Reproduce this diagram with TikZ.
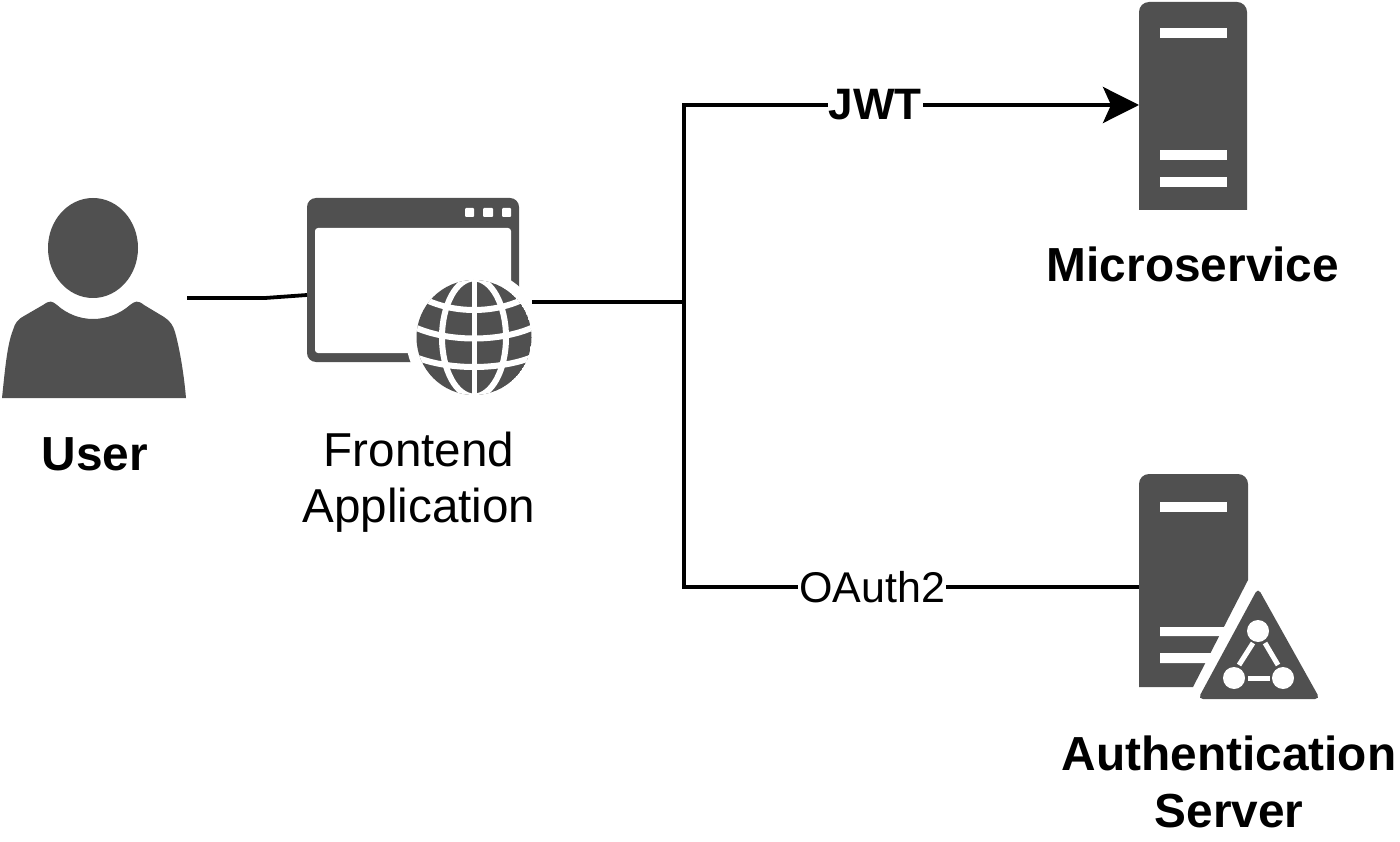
\documentclass[tikz,border=0pt]{standalone}
\usepackage{fontspec}
\setmainfont{Liberation Sans}
\usetikzlibrary{arrows.meta}
\definecolor{icon}{HTML}{505050}
\tikzset{
  x=1pt,y=-1pt,
  iconbox/.style={inner sep=0pt,outer sep=0pt,draw=none,fill=none},
  wire/.style={line width=3.8pt,black},
  wirearrow/.style={wire,-{Stealth[length=36pt,width=36pt,inset=8pt]}},
  caption/.style={align=center,inner sep=0pt,font=\fontsize{47.6}{56.5}\selectfont},
  boldcaption/.style={caption,font=\fontsize{47.8}{56.5}\selectfont\bfseries},
  wirelabel/.style={fill=white,inner sep=0pt,inner xsep=1pt,minimum height=30pt,font=\fontsize{43}{50}\selectfont},
  iconfill/.style={fill=icon,draw=none},
  cut/.style={fill=white,draw=none},
  cutline/.style={draw=white,line width=5pt},
  globeline/.style={draw=white,line width=6pt}
}
\begin{document}
\begin{tikzpicture}
\useasboundingbox (0,0) rectangle (1400,842);
\fill[white] (0,0) rectangle (1400,842);

% user icon
\fill[iconfill] (93,248) ellipse [x radius=45,y radius=50];
\fill[iconfill] (2,398) .. controls (5,370) and (7,345) .. (13,330)
  .. controls (15,323) and (18,319) .. (24,316) -- (43,305)
  .. controls (50,300) and (52,301) .. (57,305)
  .. controls (67,314) and (80,319) .. (93,319)
  .. controls (106,319) and (120,314) .. (130,305)
  .. controls (135,301) and (138,300) .. (144,305) -- (164,317)
  .. controls (170,321) and (173,325) .. (175,332)
  .. controls (180,350) and (184,375) .. (186,398) -- cycle;

% browser window
\fill[iconfill,rounded corners=9pt] (307,198) rectangle (519,362);
\fill[cut,rounded corners=3pt] (315,228) -- (511,228) -- (511,353) -- (315,353) -- cycle;
\fill[cut,rounded corners=1pt] (465,208) rectangle (474,217);
\fill[cut,rounded corners=1pt] (483,208) rectangle (493,217);
\fill[cut,rounded corners=1pt] (502,208) rectangle (511,217);
\fill[cut] (474,337.5) circle [radius=68];

% globe
\begin{scope}
  \clip (474,337.5) circle [radius=57.5];
  \fill[iconfill] (474,337.5) circle [radius=57.5];
  \draw[cutline] (474,270) -- (474,400);
  \draw[globeline] (474,337.5) ellipse [x radius=32,y radius=59];
  \draw[globeline] (405,286) .. controls (440,318) and (508,318) .. (543,286);
  \draw[globeline] (405,322) .. controls (440,344) and (508,344) .. (543,322);
  \draw[globeline] (405,352) .. controls (440,372) and (508,372) .. (543,352);
\end{scope}

% microservice server
\path[iconfill] (1139,210) [rounded corners=10pt] -- (1139,2) -- (1247,2) [sharp corners] -- (1247,210) -- cycle;
\fill[cut] (1160,28) rectangle (1227,38);
\fill[cut] (1160,150) rectangle (1227,160);
\fill[cut] (1160,177) rectangle (1227,187);

% authentication server
\path[iconfill] (1139,687) [rounded corners=10pt] -- (1139,474) -- (1248,474) [sharp corners] -- (1248,580) -- (1193,687) -- cycle;
\fill[cut] (1160,502) rectangle (1227,512);
\fill[cut] (1160,627) -- (1226,627) -- (1221,636) -- (1160,636) -- cycle;
\fill[cut] (1160,653) -- (1212,653) -- (1207,663) -- (1160,663) -- cycle;
\fill[iconfill,rounded corners=5pt] (1258,588) -- (1320,699) -- (1198,699) -- cycle;
\fill[cut] (1258,631) circle [radius=11];
\fill[cut] (1234,678) circle [radius=11];
\fill[cut] (1283,678) circle [radius=11];
\draw[cutline] (1253,643) -- (1239,665);
\draw[cutline] (1265,643) -- (1278,665);
\draw[cutline] (1248,678) -- (1270,678);

% anchor boxes of the icons
\node[iconbox,minimum width=185pt,minimum height=200pt] (user) at (94.5,298) {};
\node[iconbox,minimum width=212pt,minimum height=164pt] (frontend) at (413,295) {};
\node[iconbox,minimum width=116pt,minimum height=116pt] (globe) at (474,302) {};
\node[iconbox,minimum width=108pt,minimum height=206pt] (micro) at (1193,105) {};
\node[iconbox,minimum width=109pt,minimum height=213pt] (auth) at (1193.5,587) {};
\coordinate (junction) at (684,302);
\coordinate (bendA) at (265,298);

% connectors
\draw[wire] (user.east) -- (bendA) -- (frontend.west);
\draw[wire] (globe.east) -- (junction);
\draw[wirearrow] (junction) |- node[pos=0.71,wirelabel,font=\fontsize{44}{50}\selectfont\bfseries] {JWT} (micro.west);
\draw[wire] (junction) |- node[pos=0.7066,wirelabel] {OAuth2} (auth.west);

% captions
\node[boldcaption] (userlabel) at (95,454) {User};
\node[caption] (frontendlabel) at (419,482) {Frontend\\Application};
\node[boldcaption] (microlabel) at (1193,264) {Microservice};
\node[boldcaption] (authlabel) at (1229,782) {Authentication\\Server};
\end{tikzpicture}
\end{document}
